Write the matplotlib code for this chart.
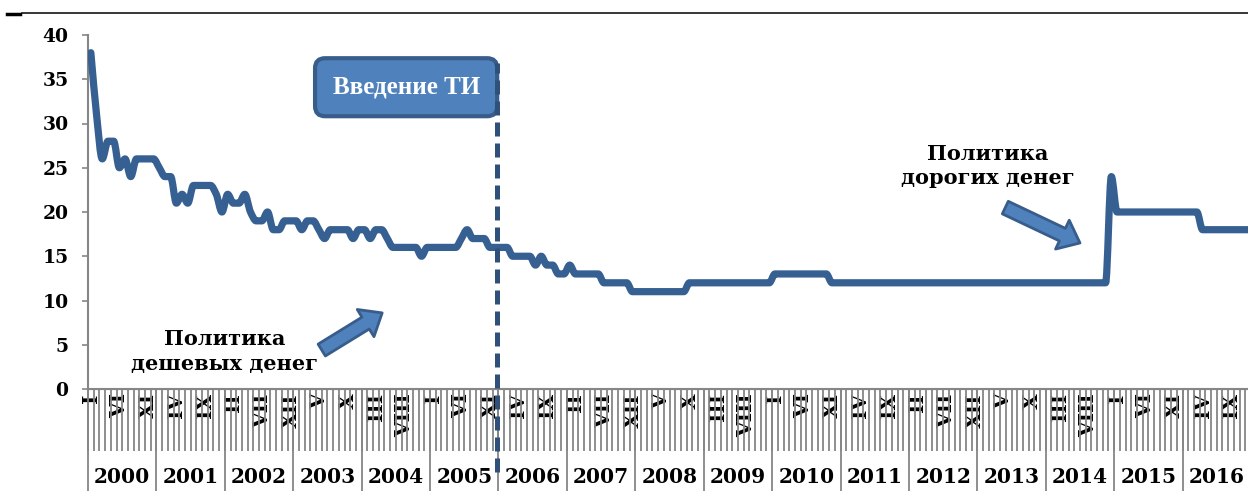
import matplotlib
matplotlib.use('Agg')
import matplotlib.pyplot as plt
import numpy as np
from matplotlib.path import Path
from matplotlib.patches import PathPatch
from matplotlib.lines import Line2D

# monthly rate, %
rate_2000 = [38, 31, 26, 28, 28, 25, 26, 24, 26, 26, 26, 26]
rate_2001 = [25, 24, 24, 21, 22, 21, 23, 23, 23, 23, 22, 20]
rate_2002 = [22, 21, 21, 22, 20, 19, 19, 20, 18, 18, 19, 19]
rate_2003 = [19, 18, 19, 19, 18, 17, 18, 18, 18, 18, 17, 18]
rate_2004 = [18, 17, 18, 18, 17, 16, 16, 16, 16, 16, 15, 16]
rate_2005 = [16, 16, 16, 16, 16, 17, 18, 17, 17, 17, 16, 16]
rate_2006 = [16, 16, 15, 15, 15, 15, 14, 15, 14, 14, 13, 13]
rate_2007 = [14, 13, 13, 13, 13, 13, 12, 12, 12, 12, 12, 11]
rate_2008 = [11, 11, 11, 11, 11, 11, 11, 11, 11, 12, 12, 12]
rate_2009 = [12, 12, 12, 12, 12, 12, 12, 12, 12, 12, 12, 12]
rate_2010 = [13, 13, 13, 13, 13, 13, 13, 13, 13, 13, 12, 12]
rate_2011 = [12, 12, 12, 12, 12, 12, 12, 12, 12, 12, 12, 12]
rate_2012 = [12, 12, 12, 12, 12, 12, 12, 12, 12, 12, 12, 12]
rate_2013 = [12, 12, 12, 12, 12, 12, 12, 12, 12, 12, 12, 12]
rate_2014 = [12, 12, 12, 12, 12, 12, 12, 12, 12, 12, 12, 24]
rate_2015 = [20, 20, 20, 20, 20, 20, 20, 20, 20, 20, 20, 20]
rate_2016 = [20, 20, 20, 18, 18, 18, 18, 18, 18, 18, 18, 18]

rates = (rate_2000 + rate_2001 + rate_2002 + rate_2003 + rate_2004 + rate_2005
         + rate_2006 + rate_2007 + rate_2008 + rate_2009 + rate_2010 + rate_2011
         + rate_2012 + rate_2013 + rate_2014 + rate_2015 + rate_2016)
years = [str(y) for y in range(2000, 2017)]
roman = ['I', 'II', 'III', 'IV', 'V', 'VI', 'VII', 'VIII', 'IX', 'X', 'XI', 'XII']

ti_month = 71.3   # "Введение ТИ" marker

line_c = '#376092'
gray = '#868686'

plt.rcParams['font.family'] = 'DejaVu Serif'
plt.rcParams['font.weight'] = 'bold'


def smooth_path(xs, ys):
    # smoothed line without overshoot (monotone cubic -> bezier)
    xs = np.asarray(xs, float)
    ys = np.asarray(ys, float)
    d = np.diff(ys) / np.diff(xs)
    m = np.zeros_like(ys)
    m[0], m[-1] = d[0], d[-1]
    for i in range(1, len(ys) - 1):
        if d[i - 1] * d[i] > 0:
            m[i] = 2 / (1 / d[i - 1] + 1 / d[i])
    verts = [(xs[0], ys[0])]
    codes = [Path.MOVETO]
    for i in range(len(xs) - 1):
        h = xs[i + 1] - xs[i]
        verts += [(xs[i] + h / 3, ys[i] + m[i] * h / 3),
                  (xs[i + 1] - h / 3, ys[i + 1] - m[i + 1] * h / 3),
                  (xs[i + 1], ys[i + 1])]
        codes += [Path.CURVE4] * 3
    return Path(verts, codes)


n = len(rates)
x = np.arange(n)

fig = plt.figure(figsize=(12.48, 4.91), dpi=100)
ax = fig.add_axes([88 / 1248, 102 / 491, 1163 / 1248, 354 / 491])

ax.add_patch(PathPatch(smooth_path(x, rates), fill=False, ec=line_c, lw=5.2,
                       capstyle='round', joinstyle='round', zorder=3))

ax.set_xlim(-0.5, n - 0.5)
ax.set_ylim(0, 40)
ax.set_yticks(range(0, 41, 5))
ax.tick_params(axis='y', length=4.5, color=gray, width=1.2, pad=9.5, labelsize=13.5)

for s in ['top', 'right']:
    ax.spines[s].set_visible(False)
for s in ['left', 'bottom']:
    ax.spines[s].set_color(gray)
    ax.spines[s].set_linewidth(1.5)

# month labels every 5th month, month boundaries as minor ticks
ax.set_xticks(x[::5])
ax.set_xticklabels([roman[i % 12] for i in x[::5]], rotation=90, va='top', fontsize=14.5)
ax.set_xticks(np.arange(-0.5, n, 1), minor=True)
ax.tick_params(axis='x', which='major', length=0, pad=3)
ax.tick_params(axis='x', which='minor', length=44.5, color=gray, width=1.3)

# year row
sec = ax.secondary_xaxis('bottom')
sec.set_xticks(np.arange(-0.5, n, 12), [''] * len(np.arange(-0.5, n, 12)))
sec.set_xticks(np.arange(5.5, n, 12), years, minor=True)
sec.tick_params(which='major', length=75, color=gray, width=1.3)
sec.tick_params(which='minor', length=0, pad=56, labelsize=14.5)
sec.spines['bottom'].set_color(gray)

# inflation targeting marker
ax.axvline(ti_month, ymin=-0.235, ymax=0.922, color='#2E5079', lw=3.6,
           dashes=(2.8, 1.4), clip_on=False, zorder=5)
ax.text(55.3, 34.1, 'Введение ТИ', ha='center', va='center', color='white',
        fontsize=18, fontweight='bold', family='Liberation Serif', zorder=4,
        bbox=dict(boxstyle='round,pad=0.7,rounding_size=0.4', fc='#4F81BD',
                  ec='#385D8A', lw=3))

ax.text(23.4, 4.2, 'Политика\nдешевых денег', ha='center', va='center',
        fontsize=15, linespacing=1.3)
ax.text(157.4, 25.2, 'Политика\nдорогих денег', ha='center', va='center',
        fontsize=15, linespacing=1.3)

arrow = dict(arrowstyle='simple,head_length=1.4,head_width=2.3,tail_width=1.0',
             mutation_scale=10, fc='#4F81BD', ec='#385D8A', lw=2,
             shrinkA=0, shrinkB=0)
ax.annotate('', xy=(51.1, 8.6), xytext=(40.5, 4.4), arrowprops=arrow)
ax.annotate('', xy=(173.5, 16.5), xytext=(160.4, 20.5), arrowprops=arrow)

# page rule above the chart
fig.add_artist(Line2D([22 / 1248, 1], [1 - 13 / 491] * 2, color='black', lw=1.1))
fig.add_artist(Line2D([7 / 1248, 20 / 1248], [1 - 13.5 / 491] * 2, color='black', lw=2.5))

fig.savefig('out.png', dpi=100)
